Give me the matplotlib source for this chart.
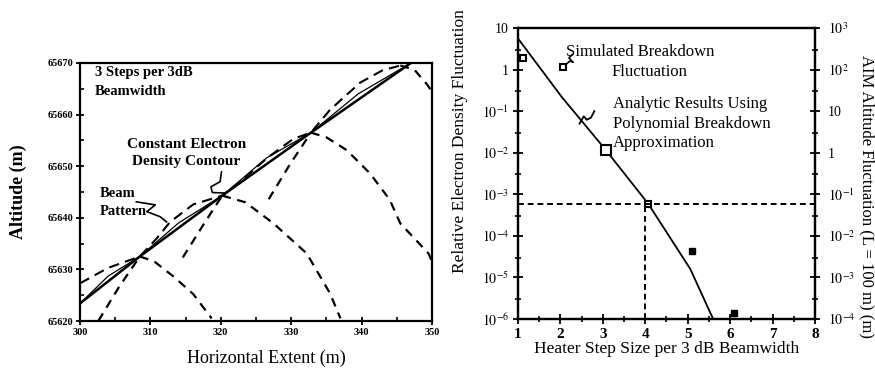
import numpy as np
import matplotlib
matplotlib.use('Agg')
import matplotlib.pyplot as plt
from matplotlib.ticker import MultipleLocator, FixedLocator, FixedFormatter, NullFormatter

plt.rcParams['font.family'] = ['Liberation Serif', 'DejaVu Serif']
plt.rcParams['mathtext.fontset'] = 'stix'

# ---- left panel data ----
contour_x = [300, 308.5, 320.2, 332.8, 347]
contour_y = [65623.4, 65632.5, 65644.3, 65656.5, 65670]

lens_x = [300, 304, 308.5, 314, 320.2, 326.5, 332.8, 339.5, 347]
lens_y = [65623.4, 65628.7, 65632.5, 65639.0, 65644.3, 65651.6, 65656.5, 65664.0, 65670]

shoulder_x = [300, 304, 308.5, 310.9, 312.8, 316.1, 320.2, 322.7, 326.5, 330.3, 332.8, 335.5, 339.8, 343, 345.5]
shoulder_y = [65627.3, 65630.3, 65632.5, 65636.0, 65639.2, 65642.6, 65644.3, 65646.9, 65651.5,
              65655.3, 65656.5, 65660.9, 65666.2, 65668.6, 65669.5]

beam_right = [
    ([308.5, 310.5, 313.3, 316.1, 318.7], [65632.5, 65631.6, 65628.6, 65625.2, 65620.5]),
    ([320.2, 323.5, 327.5, 332.2, 335.5, 337.0], [65644.3, 65643.0, 65638.9, 65633.1, 65625.4, 65620.5]),
    ([332.8, 335, 337.9, 341.2, 344, 345.5, 347.3, 349.5, 350],
     [65656.5, 65655.6, 65653.1, 65648.6, 65643.5, 65638.9, 65636.3, 65633.1, 65631.5]),
    ([345.5, 347.5, 349.2, 350], [65669.5, 65668.7, 65666.0, 65664.5]),
]
beam_left = [
    ([302.6, 305.5, 308.5], [65620.0, 65626.5, 65632.5]),
    ([314.6, 317.5, 320.2], [65632.3, 65638.6, 65644.3]),
    ([326.8, 329.8, 332.8], [65643.6, 65650.3, 65656.5]),
]

# ---- right panel data ----
analytic_x = [1.0, 2.03, 3.05, 4.07, 5.06, 5.6]
analytic_y = [5.6, 0.22, 0.0123, 5.9e-4, 1.6e-5, 1.0e-6]

sim_open_x = [1.12, 2.07, 3.08, 4.07]
sim_open_y = [1.85, 1.16, 0.0118, 5.9e-4]
sim_open_size = [4, 5, 7.5, 5]

sim_fill_x = [5.1, 6.08]
sim_fill_y = [4.4e-5, 1.4e-6]

ref_level = 5.9e-4
ref_step = 4

left_ticklabels = ['$10^{-6}$', '$10^{-5}$', '$10^{-4}$', '$10^{-3}$', '$10^{-2}$', '$10^{-1}$', '1', '10']
right_ticklabels = ['$10^{-4}$', '$10^{-3}$', '$10^{-2}$', '$10^{-1}$', '1', '10', '$10^{2}$', '$10^{3}$']

fig = plt.figure(figsize=(8.75, 3.73), dpi=100)

# ================= left panel =================
ax1 = fig.add_axes([0.0914, 0.1394, 0.4023, 0.6917])
ax1.plot(contour_x, contour_y, color='black', lw=1.8)
ax1.plot(lens_x, lens_y, color='black', lw=0.9)
ax1.plot(shoulder_x, shoulder_y, color='black', lw=1.5, ls=(0, (5, 3)))
for bx, by in beam_right + beam_left:
    ax1.plot(bx, by, color='black', lw=1.6, ls=(0, (4, 3)))

ax1.set_xlim(300, 350)
ax1.set_ylim(65620, 65670)
ax1.xaxis.set_major_locator(MultipleLocator(10))
ax1.xaxis.set_minor_locator(MultipleLocator(5))
ax1.yaxis.set_major_locator(MultipleLocator(10))
ax1.yaxis.set_minor_locator(MultipleLocator(5))
ax1.tick_params(which='major', direction='inout', length=6, width=1.3, labelsize=7.5, pad=2)
ax1.tick_params(which='minor', direction='in', length=3, width=1.2)
for lab in ax1.get_xticklabels() + ax1.get_yticklabels():
    lab.set_fontweight('bold')
for sp in ax1.spines.values():
    sp.set_linewidth(1.6)

ax1.set_xlabel('Horizontal Extent (m)', fontsize=13)
ax1.set_ylabel('Altitude (m)', fontsize=13, fontweight='bold')
ax1.xaxis.set_label_coords(0.53, -0.11)
ax1.yaxis.set_label_coords(-0.15, 0.5)

ax1.text(302.1, 65666.3, '3 Steps per 3dB\nBeamwidth', fontsize=10.5, fontweight='bold',
         va='center', linespacing=1.6)
ax1.text(315.1, 65652.6, 'Constant Electron\nDensity Contour', fontsize=11, fontweight='bold',
         ha='center', va='center', linespacing=1.4)
ax1.text(302.8, 65643.0, 'Beam\nPattern', fontsize=10.5, fontweight='bold',
         va='center', linespacing=1.5)
ax1.plot([320.1, 319.9, 318.6, 318.8, 320.6], [65648.9, 65647.0, 65646.0, 65644.9, 65644.8],
         color='black', lw=1.2)
ax1.plot([308.0, 310.7, 309.5, 311.4, 312.3], [65643.1, 65642.5, 65641.2, 65640.2, 65639.2],
         color='black', lw=1.2)

# ================= right panel =================
ax2 = fig.add_axes([0.592, 0.1448, 0.3394, 0.7801])
ax2.plot(analytic_x, analytic_y, color='black', lw=1.3)
for x, y, s in zip(sim_open_x, sim_open_y, sim_open_size):
    ax2.plot(x, y, marker='s', ms=s, mfc='white', mec='black', mew=1.5, ls='none')
ax2.plot(sim_fill_x, sim_fill_y, marker='s', ms=4.5, color='black', ls='none')
ax2.axhline(ref_level, color='black', lw=1.4, ls=(0, (3, 2)))
ax2.plot([ref_step, ref_step], [1e-6, ref_level], color='black', lw=1.4, ls=(0, (3, 2)))

ax2.set_yscale('log')
ax2.set_xlim(1, 8)
ax2.set_ylim(1e-6, 10)
ax2.xaxis.set_major_locator(MultipleLocator(1))
ax2.xaxis.set_minor_locator(MultipleLocator(0.5))
ax2.yaxis.set_major_locator(FixedLocator([1e-6, 1e-5, 1e-4, 1e-3, 1e-2, 1e-1, 1, 10]))
ax2.yaxis.set_major_formatter(FixedFormatter(left_ticklabels))
ax2.yaxis.set_minor_locator(FixedLocator([3 * 10.0 ** k for k in range(-6, 1)]))
ax2.yaxis.set_minor_formatter(NullFormatter())
ax2.tick_params(which='major', direction='inout', length=7, width=1.3, labelsize=10, pad=3)
ax2.tick_params(which='minor', direction='inout', length=4, width=1.2)
ax2.tick_params(axis='x', which='major', labelsize=11, pad=3)
for lab in ax2.get_xticklabels():
    lab.set_fontweight('bold')
for sp in ax2.spines.values():
    sp.set_linewidth(1.6)

ax2.set_xlabel('Heater Step Size per 3 dB Beamwidth', fontsize=12.5)
ax2.set_ylabel('Relative Electron Density Fluctuation', fontsize=12.5)
ax2.xaxis.set_label_coords(0.5, -0.075)
ax2.yaxis.set_label_coords(-0.17, 0.61)

ax3 = ax2.twinx()
ax3.set_yscale('log')
ax3.set_ylim(1e-4, 1e3)
ax3.yaxis.set_major_locator(FixedLocator([1e-4, 1e-3, 1e-2, 1e-1, 1, 10, 1e2, 1e3]))
ax3.yaxis.set_major_formatter(FixedFormatter(right_ticklabels))
ax3.yaxis.set_minor_locator(FixedLocator([3 * 10.0 ** k for k in range(-4, 3)]))
ax3.yaxis.set_minor_formatter(NullFormatter())
ax3.tick_params(which='major', direction='inout', length=7, width=1.3, labelsize=10, pad=6)
ax3.tick_params(which='minor', direction='inout', length=4, width=1.2)
for sp in ax3.spines.values():
    sp.set_linewidth(1.6)
ax3.set_ylabel('AIM Altitude Fluctuation (L = 100 m) (m)', fontsize=12, rotation=-90)
ax3.yaxis.set_label_coords(1.2, 0.42)

ax2.text(2.13, 2.6, 'Simulated Breakdown', fontsize=12, va='center')
ax2.text(3.2, 0.88, 'Fluctuation', fontsize=12, va='center')
ax2.text(3.24, 0.23, 'Analytic Results Using\nPolynomial Breakdown\nApproximation', fontsize=12,
         va='top', linespacing=1.3)
ax2.plot([2.12, 2.22, 2.3, 2.2, 2.28], [1.3, 1.6, 1.5, 1.9, 2.3], color='black', lw=1.2)
ax2.plot([2.45, 2.55, 2.62, 2.72, 2.8], [0.05, 0.075, 0.062, 0.07, 0.1], color='black', lw=1.3)

fig.savefig('out.png', dpi=100)
